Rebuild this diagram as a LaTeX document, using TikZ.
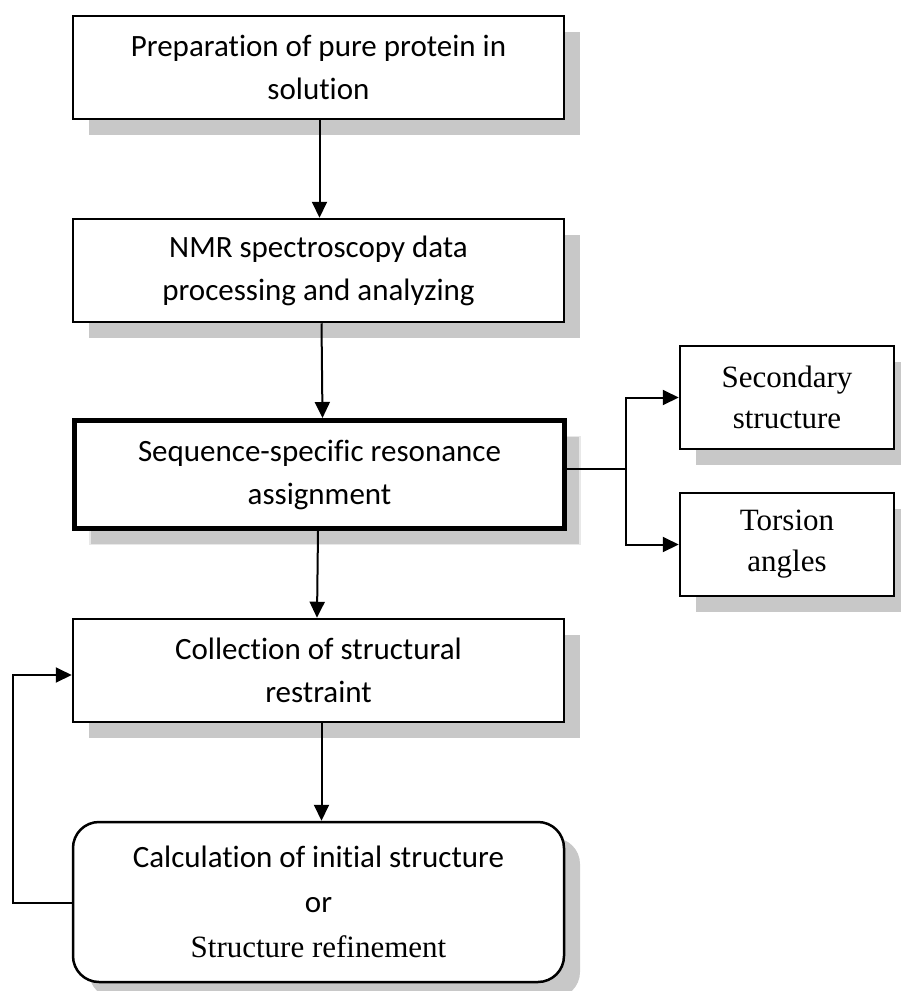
\documentclass[tikz,border=0pt]{standalone}
\usepackage{fontspec}
\setmainfont[Ligatures=NoCommon]{Carlito}
\newfontfamily\serifrm[Ligatures=NoCommon]{Liberation Serif}
\usetikzlibrary{arrows.meta,shadows}
\definecolor{shadowgray}{RGB}{200,200,200}
\definecolor{shadowedge}{RGB}{232,232,232}

\begin{document}
\begin{tikzpicture}[x=1pt,y=-1pt,
  boxshadow/.style={drop shadow={shadow xshift=16pt, shadow yshift=-16pt,
      fill=shadowgray, opacity=1}},
  stage/.style={draw, line width=2.5pt, fill=white, align=center, inner sep=0pt,
      minimum width=491pt, minimum height=103pt,
      font=\fontsize{31}{43}\selectfont, boxshadow},
  keystage/.style={stage, line width=5pt, minimum width=490pt, minimum height=108pt,
      drop shadow={shadow xshift=15.5pt, shadow yshift=-16pt, fill=shadowgray,
      draw=shadowedge, line width=1.2pt, opacity=1}},
  sidebox/.style={stage, minimum width=214pt, minimum height=103pt,
      font=\serifrm\fontsize{31}{41}\selectfont},
  roundstage/.style={stage, rounded corners=26pt, minimum height=160pt,
      font=\fontsize{31}{45}\selectfont},
  link/.style={line width=2pt},
  arr/.style={link, -{Triangle[length=16pt,width=15pt]}}
]
\useasboundingbox (0,0) rectangle (901,991);
\clip (0,0) rectangle (901,991);

% process stages
\node[stage] (prep) at (318.5,67.5) {Preparation of pure protein in\\solution};
\node[stage] (nmr) at (318.5,270.5) {NMR spectroscopy data\\processing and analyzing};
\node[keystage] (seq) at (319.5,474.5) {Sequence-specific resonance\\assignment};
\node[sidebox] (sec) at (787,397.5) {Secondary\\structure};
\node[sidebox] (tor) at (787,544.5) {Torsion\\angles};
\node[stage] (coll) at (318.5,670.5) {Collection of structural\\restraint};
\node[roundstage] (calc) at (318.5,902) {Calculation of initial structure\\or\\{\serifrm Structure refinement}};

% main flow
\draw[arr] ([xshift=1pt]prep.south) -- ([xshift=1pt]nmr.north);
\draw[arr] ([xshift=3pt]nmr.south) -- ([xshift=3pt]seq.north);
\draw[arr] ([xshift=-1.5pt]seq.south) -- ([xshift=-1.5pt]coll.north);
\draw[arr] ([xshift=3pt]coll.south) -- ([xshift=3pt]calc.north);

% branch to the derived results
\coordinate (fork) at (626,469);
\draw[link] ([yshift=5.5pt]seq.east) -- (fork);
\draw[arr] (fork) |- (sec.west);
\draw[arr] (fork) |- (tor.west);

% refinement loop
\coordinate (back) at (13,903);
\draw[arr] (calc.west |- back) -- (back) |- ([yshift=-4.5pt]coll.west);
\end{tikzpicture}
\end{document}
